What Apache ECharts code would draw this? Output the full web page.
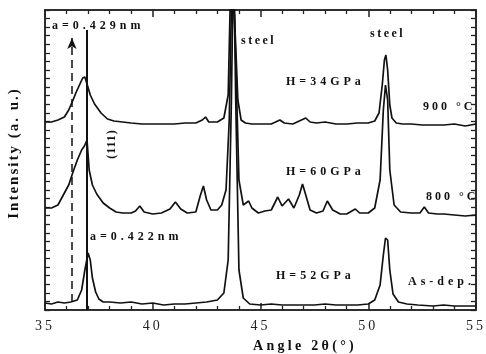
<!DOCTYPE html>
<html>
<head>
<meta charset="utf-8">
<script src="https://cdn.jsdelivr.net/npm/echarts@6/dist/echarts.min.js"></script>
<style>
html,body{margin:0;padding:0;background:#fff;}
#chart{width:486px;height:354px;}
</style>
</head>
<body>
<div id="chart"></div>
<script>
// 2θ angle ticks
const xTicks = [35, 40, 45, 50, 55];

// [angle 2θ (°), intensity (a.u.)] — As-deposited, H = 52 GPa
const asDep = [
  [35.0,7],[35.3,6],[35.6,8],[35.9,7],[36.2,8],[36.5,10],[36.7,20],[36.85,40],[37.0,57],[37.1,50],
  [37.2,32],[37.35,18],[37.5,11],[37.7,8],[38.0,8],[38.5,7],[39.0,8],[39.5,6],[40.0,7],[40.5,5],
  [41.0,6],[41.5,6],[42.0,7],[42.5,8],[43.0,10],[43.3,17],[43.5,50],[43.65,210],[43.75,360],[43.85,210],
  [44.0,40],[44.2,12],[44.5,6],[45.0,5],[45.5,6],[46.0,5],[46.5,5],[47.0,5],[47.5,5],[48.0,6],
  [48.5,5],[49.0,5],[49.5,5],[50.0,6],[50.3,10],[50.55,25],[50.7,55],[50.8,72],[50.9,70],[51.0,40],
  [51.15,16],[51.4,8],[51.8,6],[52.3,5],[53.0,4],[53.5,5],[54.0,4],[54.5,4],[55.0,4]
];

// 800 °C, H = 60 GPa
const t800 = [
  [35.0,102],[35.3,102],[35.6,105],[35.9,117],[36.1,125],[36.3,138],[36.5,150],[36.7,160],[36.83,164],[36.95,170],
  [37.05,140],[37.2,125],[37.4,116],[37.7,107],[38.0,102],[38.3,98],[38.6,97],[39.0,97],[39.2,99],[39.4,104],
  [39.6,98],[40.0,96],[40.4,97],[40.8,101],[41.05,108],[41.3,101],[41.6,97],[42.0,98],[42.2,114],[42.35,124],
  [42.5,110],[42.7,100],[43.0,100],[43.2,105],[43.4,120],[43.55,190],[43.7,360],[43.85,250],[44.0,130],[44.2,105],
  [44.45,109],[44.6,102],[44.9,97],[45.2,99],[45.5,100],[45.8,113],[46.0,104],[46.3,111],[46.55,102],[46.8,115],
  [46.95,126],[47.1,115],[47.3,100],[47.6,97],[47.9,99],[48.1,109],[48.35,100],[48.7,96],[49.0,96],[49.4,101],
  [49.6,97],[50.0,97],[50.3,102],[50.55,130],[50.7,200],[50.8,225],[50.9,210],[51.0,140],[51.2,105],[51.5,98],
  [52.0,97],[52.4,97],[52.6,103],[52.8,97],[53.2,96],[53.5,96],[54.0,95],[54.5,94],[55.0,95]
];

// 900 °C, H = 34 GPa
const t900 = [
  [35.0,188],[35.3,188],[35.6,190],[35.9,193],[36.1,200],[36.3,210],[36.45,218],[36.6,225],[36.75,232],[36.85,233],
  [36.95,226],[37.1,215],[37.3,206],[37.6,197],[37.9,191],[38.2,189],[38.6,188],[39.0,187],[39.5,186],[40.0,186],
  [40.5,186],[41.0,186],[41.5,187],[42.0,187],[42.3,190],[42.45,193],[42.6,188],[43.0,188],[43.3,192],[43.5,215],
  [43.65,360],[43.8,290],[43.95,210],[44.1,190],[44.3,187],[44.6,186],[45.0,186],[45.5,186],[45.9,190],[46.1,187],
  [46.5,186],[46.9,190],[47.1,192],[47.3,188],[47.6,187],[48.0,188],[48.5,186],[49.0,186],[49.5,187],[50.0,187],
  [50.3,189],[50.5,197],[50.65,225],[50.75,250],[50.82,255],[50.9,240],[51.0,205],[51.1,192],[51.3,187],[51.6,186],
  [52.0,186],[52.5,185],[53.0,185],[53.5,185],[54.0,186],[54.5,184],[55.0,186]
];

// reference lines (angle 2θ)
const line422 = 36.95;   // a = 0.422 nm
const line429 = 36.25;   // a = 0.429 nm

// letter spacing of the typeset labels (canvas text)
const spacing = {
  'a=0.429nm': 4, 'a=0.422nm': 4, 'steel': 2.5, 'H=34GPa': 4, 'H=60GPa': 4, 'H=52GPa': 4,
  '900 °C': 3, '800 °C': 3, 'As-dep.': 4, '(111)': 1, 'Intensity (a. u.)': 2, 'Angle 2θ(°)': 3.3,
  '35': 3, '40': 3, '45': 3, '50': 3, '55': 3
};
(function () {
  const proto = CanvasRenderingContext2D.prototype;
  const origFill = proto.fillText;
  proto.fillText = function (t, x, y, m) {
    if ('letterSpacing' in this) {
      const s = spacing[t];
      this.letterSpacing = (s || 0) + 'px';
    }
    return m === undefined ? origFill.call(this, t, x, y) : origFill.call(this, t, x, y, m);
  };
})();

const chart = echarts.init(document.getElementById('chart'));
const serif = '"Liberation Serif", "Times New Roman", serif';
const ink = '#222222';

function xAx(pos, labels) {
  return {
    gridIndex: 0, type: 'value', position: pos, min: 35, max: 55, interval: 5,
    axisLine: {show: true, onZero: false, lineStyle: {color: ink, width: 1.5}},
    axisTick: {show: true, inside: true, length: 7, lineStyle: {color: ink, width: 1.5}},
    minorTick: {show: true, splitNumber: 5, length: 4, lineStyle: {color: ink, width: 1.3}},
    splitLine: {show: false},
    axisLabel: {show: labels, color: ink, fontFamily: serif, fontSize: 14, margin: 9}
  };
}
function yAx(pos) {
  return {
    gridIndex: 0, type: 'value', position: pos, min: 0, max: 300, interval: 300 / 35,
    axisLine: {show: true, onZero: false, lineStyle: {color: ink, width: 1.5}},
    axisTick: {show: true, inside: true, length: 5, lineStyle: {color: ink, width: 1.3}},
    splitLine: {show: false}, axisLabel: {show: false}
  };
}
function ser(name, data, xi, yi) {
  return {
    name: name, type: 'line', data: data, symbol: 'none', clip: true,
    xAxisIndex: xi, yAxisIndex: yi,
    lineStyle: {color: '#111111', width: 1.7}
  };
}
function txt(text, x, y, size, rot) {
  const el = {
    type: 'text', x: x, y: y, silent: true, z: 100,
    style: {text: text, fill: '#111111', font: 'bold ' + size + 'px ' + serif,
      textAlign: rot ? 'center' : 'left', textVerticalAlign: 'middle'}
  };
  if (rot) el.rotation = Math.PI / 2;
  return el;
}

const s0 = ser('As-dep.', asDep, 0, 0);
s0.markLine = {
  silent: true, animation: false, label: {show: false},
  data: [
    [{coord: [line422, 0], symbol: 'none', lineStyle: {type: 'solid', width: 2, color: '#111111'}},
     {coord: [line422, 280], symbol: 'none'}],
    [{coord: [line429, 8], symbol: 'none', lineStyle: {type: [8, 5], width: 1.5, color: '#111111'}},
     {coord: [line429, 272], symbol: 'arrow', symbolSize: [7, 11]}]
  ]
};

chart.setOption({
  animation: false,
  backgroundColor: '#ffffff',
  grid: [{left: 45, top: 10, width: 436, height: 300, show: true,
    borderColor: ink, borderWidth: 1.5, backgroundColor: 'transparent'}],
  xAxis: [xAx('bottom', true), xAx('top', false)],
  yAxis: [yAx('left'), yAx('right')],
  series: [s0, ser('800 °C', t800, 0, 0), ser('900 °C', t900, 1, 1)],
  graphic: [
    txt('a=0.429nm', 52, 26, 12),
    txt('a=0.422nm', 90, 237, 12),
    txt('steel', 241, 41, 12),
    txt('steel', 370, 34, 12),
    txt('H=34GPa', 286, 82, 12),
    txt('H=60GPa', 286, 172, 12),
    txt('H=52GPa', 276, 276, 12),
    txt('900 °C', 423, 107, 12),
    txt('800 °C', 426, 197, 12),
    txt('As-dep.', 408, 282, 12),
    txt('(111)', 112, 144, 12, true),
    txt('Intensity (a. u.)', 14, 153, 15, true),
    txt('Angle 2θ(°)', 253, 346, 14)
  ]
});
</script>
</body>
</html>
